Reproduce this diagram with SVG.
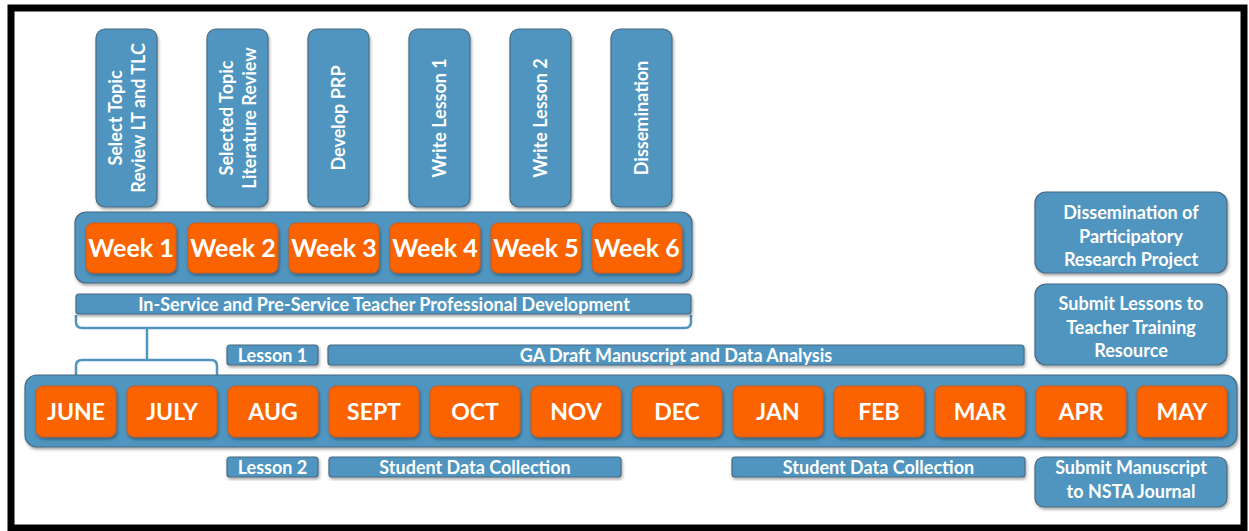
<svg xmlns="http://www.w3.org/2000/svg" width="1249" height="531" viewBox="0 0 1249 531">
<defs>
<filter id="sh" x="-10%" y="-10%" width="120%" height="130%">
<feDropShadow dx="1" dy="2" stdDeviation="1.5" flood-color="#000" flood-opacity="0.35"/>
</filter>
<style>
.blue{fill:#4f95c0;stroke:#4b6a80;stroke-width:1.2;filter:url(#sh)}
.org{fill:#fa6400;stroke:#c85a1e;stroke-width:1;filter:url(#sh)}
text{font-family:"Lato","Open Sans","Liberation Sans",sans-serif;font-weight:bold;fill:#ffffff;text-anchor:middle}
.vt{font-size:18px}
.big{font-size:25px}
.mon{font-size:23px}
.bar{font-size:18px}
.box{font-size:18px}
.con{fill:none;stroke:#4f95c0;stroke-width:2.5;stroke-linejoin:round}
</style>
</defs>
<rect x="0" y="0" width="1249" height="531" fill="#ffffff"/>
<rect x="11" y="8" width="1233" height="520" fill="#ffffff" stroke="#000000" stroke-width="7"/>

<g id="connectors">
<path class="con" d="M76,315 L76,322 Q76,328 82,328 L685,328 Q691,328 691,322 L691,315"/>
<path class="con" d="M147,328 L147,360"/>
<path class="con" d="M76,376 L76,366 Q76,360 82,360 L211,360 Q217,360 217,366 L217,376"/>
</g>

<g id="tasks-top">
<g id="t1"><rect class="blue" x="96" y="29" width="61" height="178" rx="9"/>
<text class="vt" transform="translate(126.5,118) rotate(-90)"><tspan x="0" y="-5">Select Topic</tspan><tspan x="0" y="18">Review LT and TLC</tspan></text></g>
<g id="t2"><rect class="blue" x="207" y="29" width="61" height="178" rx="9"/>
<text class="vt" transform="translate(237.5,118) rotate(-90)"><tspan x="0" y="-5">Selected Topic</tspan><tspan x="0" y="18">Literature Review</tspan></text></g>
<g id="t3"><rect class="blue" x="308" y="29" width="61" height="178" rx="9"/>
<text class="vt" transform="translate(338.5,118) rotate(-90)" y="6">Develop PRP</text></g>
<g id="t4"><rect class="blue" x="409" y="29" width="61" height="178" rx="9"/>
<text class="vt" transform="translate(439.5,118) rotate(-90)" y="6">Write Lesson 1</text></g>
<g id="t5"><rect class="blue" x="510" y="29" width="61" height="178" rx="9"/>
<text class="vt" transform="translate(540.5,118) rotate(-90)" y="6">Write Lesson 2</text></g>
<g id="t6"><rect class="blue" x="611" y="29" width="61" height="178" rx="9"/>
<text class="vt" transform="translate(641.5,118) rotate(-90)" y="6">Dissemination</text></g>
</g>

<g id="weeks">
<rect class="blue" x="75" y="212" width="617" height="71" rx="11"/>
<g id="w1"><rect class="org" x="86" y="223" width="90" height="50" rx="7"/><text class="big" x="131" y="257">Week 1</text></g>
<g id="w2"><rect class="org" x="188" y="223" width="90" height="50" rx="7"/><text class="big" x="233" y="257">Week 2</text></g>
<g id="w3"><rect class="org" x="289" y="223" width="90" height="50" rx="7"/><text class="big" x="334" y="257">Week 3</text></g>
<g id="w4"><rect class="org" x="390" y="223" width="90" height="50" rx="7"/><text class="big" x="435" y="257">Week 4</text></g>
<g id="w5"><rect class="org" x="491" y="223" width="90" height="50" rx="7"/><text class="big" x="536" y="257">Week 5</text></g>
<g id="w6"><rect class="org" x="592" y="223" width="90" height="50" rx="7"/><text class="big" x="637" y="257">Week 6</text></g>
</g>

<g id="pd"><rect class="blue" x="76" y="294" width="615" height="20" rx="3"/>
<text class="bar" x="384" y="310.5">In-Service and Pre-Service Teacher Professional Development</text></g>

<g id="lesson1"><rect class="blue" x="227" y="345" width="91" height="20" rx="3"/><text class="bar" x="272.5" y="361.5">Lesson 1</text></g>
<g id="ga"><rect class="blue" x="328" y="345" width="696" height="20" rx="3"/><text class="bar" x="676" y="361.5">GA Draft Manuscript and Data Analysis</text></g>

<g id="months">
<rect class="blue" x="25" y="375" width="1212" height="72" rx="12"/>
<g id="m1"><rect class="org" x="36" y="386" width="80" height="51" rx="7"/><text class="mon" x="76" y="420">JUNE</text></g>
<g id="m2"><rect class="org" x="127" y="386" width="90" height="51" rx="7"/><text class="mon" x="172" y="420">JULY</text></g>
<g id="m3"><rect class="org" x="228" y="386" width="90" height="51" rx="7"/><text class="mon" x="273" y="420">AUG</text></g>
<g id="m4"><rect class="org" x="329" y="386" width="90" height="51" rx="7"/><text class="mon" x="374" y="420">SEPT</text></g>
<g id="m5"><rect class="org" x="430" y="386" width="90" height="51" rx="7"/><text class="mon" x="475" y="420">OCT</text></g>
<g id="m6"><rect class="org" x="531" y="386" width="90" height="51" rx="7"/><text class="mon" x="576" y="420">NOV</text></g>
<g id="m7"><rect class="org" x="632" y="386" width="90" height="51" rx="7"/><text class="mon" x="677" y="420">DEC</text></g>
<g id="m8"><rect class="org" x="733" y="386" width="90" height="51" rx="7"/><text class="mon" x="778" y="420">JAN</text></g>
<g id="m9"><rect class="org" x="834" y="386" width="90" height="51" rx="7"/><text class="mon" x="879" y="420">FEB</text></g>
<g id="m10"><rect class="org" x="935" y="386" width="90" height="51" rx="7"/><text class="mon" x="980" y="420">MAR</text></g>
<g id="m11"><rect class="org" x="1036" y="386" width="90" height="51" rx="7"/><text class="mon" x="1081" y="420">APR</text></g>
<g id="m12"><rect class="org" x="1137" y="386" width="90" height="51" rx="7"/><text class="mon" x="1182" y="420">MAY</text></g>
</g>

<g id="lesson2"><rect class="blue" x="227" y="457" width="91" height="20" rx="3"/><text class="bar" x="272.5" y="473.5">Lesson 2</text></g>
<g id="sdc1"><rect class="blue" x="329" y="457" width="292" height="20" rx="3"/><text class="bar" x="475" y="473.5">Student Data Collection</text></g>
<g id="sdc2"><rect class="blue" x="732" y="457" width="293" height="20" rx="3"/><text class="bar" x="878.5" y="473.5">Student Data Collection</text></g>

<g id="dissem"><rect class="blue" x="1035" y="192" width="192" height="81" rx="11"/>
<text class="box" x="1131"><tspan x="1131" y="219">Dissemination of</tspan><tspan x="1131" y="243">Participatory</tspan><tspan x="1131" y="266">Research Project</tspan></text></g>
<g id="submitlessons"><rect class="blue" x="1035" y="284" width="192" height="81" rx="11"/>
<text class="box" x="1131"><tspan x="1131" y="310">Submit Lessons to</tspan><tspan x="1131" y="334">Teacher Training</tspan><tspan x="1131" y="357">Resource</tspan></text></g>
<g id="submitms"><rect class="blue" x="1035" y="457" width="192" height="50" rx="9"/>
<text class="box" x="1131"><tspan x="1131" y="474">Submit Manuscript</tspan><tspan x="1131" y="498">to NSTA Journal</tspan></text></g>
</svg>
